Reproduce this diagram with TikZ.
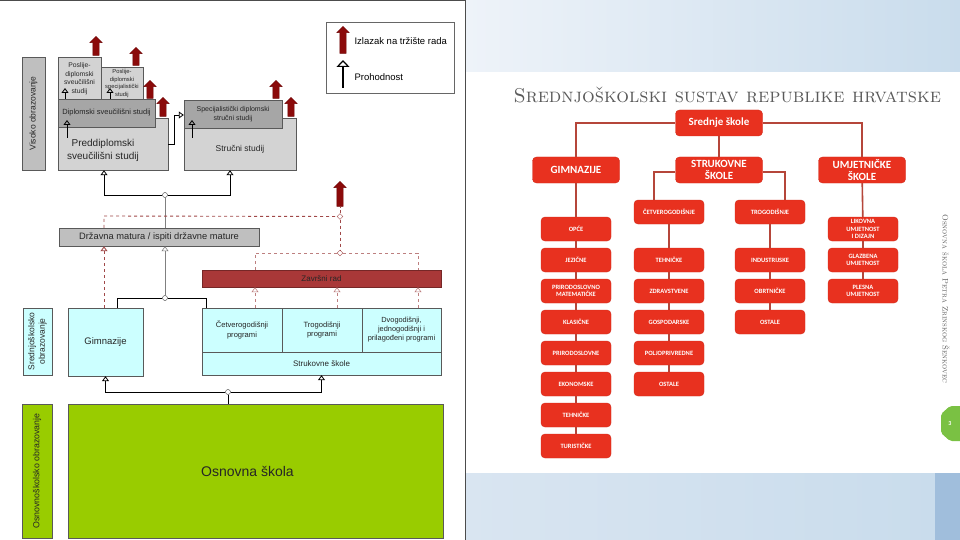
\documentclass[tikz,border=0pt]{standalone}
\usepackage{fontspec}
\newfontfamily\arialfont{Liberation Sans}
\newfontfamily\chartfont{Carlito}
\usetikzlibrary{arrows.meta,shapes.arrows,shapes.geometric}
\newcommand\fsz[2]{\fontsize{#1}{#2}\selectfont}
\definecolor{sivasv}{HTML}{D3D3D3}
\definecolor{sivatm}{HTML}{A6A6A6}
\definecolor{sivasr}{HTML}{BFBFBF}
\definecolor{cijan}{HTML}{CCFFFF}
\definecolor{zelena}{HTML}{99CC00}
\definecolor{crvzav}{HTML}{A93838}
\definecolor{izlazcrv}{HTML}{8B0A0A}
\definecolor{crtkano}{HTML}{A04848}
\definecolor{crvena}{HTML}{E8311F}
\definecolor{crvlin}{HTML}{B5463A}
\definecolor{naslovsiva}{HTML}{5A5A5A}
\definecolor{pozsv}{HTML}{EEF3F9}
\definecolor{poztm}{HTML}{C9DCEC}
\definecolor{pozdno}{HTML}{D9E5F1}
\definecolor{traka}{HTML}{A0BEDC}
\definecolor{znacka}{HTML}{7AC143}
\tikzstyle{kut} = [draw=black!65, thin, align=center, inner sep=1pt, text=black!85, font=\arialfont]

\begin{document}
\begin{tikzpicture}[x=1pt,y=-1pt,
		izlaz/.style={single arrow, rotate=90, fill=izlazcrv, draw=izlazcrv!80!black, inner xsep=0pt, inner ysep=3pt,
			single arrow head extend=3pt, single arrow head indent=0pt, minimum height=#1},
		prolaz/.style={-{Triangle[open,width=7pt,length=5pt]}, line width=0.8pt},
		spoj/.style={circle, draw=black!80, fill=white, inner sep=0pt, minimum size=5pt},
		dspoj/.style={diamond, draw=crtkano, fill=white, inner sep=0pt, minimum size=6pt},
		matura/.style={dashed, draw=crtkano, line width=0.9pt},
		zavrs/.style={dashed, draw=crtkano!70, line width=0.6pt},
		rkut/.style={rounded corners=4pt, fill=crvena, draw=crvena!90!black, text=white, align=center,
			font=\chartfont\bfseries\fsz{6.5}{7.5}, minimum width=70pt, minimum height=24pt, inner sep=0pt},
		rglav/.style={rkut, minimum width=87pt, minimum height=26pt, font=\chartfont\bfseries\fsz{11}{11.5}},
		rlin/.style={draw=crvlin, line width=1.6pt}]
		\useasboundingbox (0,0) rectangle (960,540);
		\fill[white] (0,0) rectangle (960,540);
		% slide background
		\shade[left color=pozsv, right color=poztm] (466,0) rectangle (960,72);
		\shade[left color=pozdno, right color=poztm] (466,473) rectangle (935,540);
		\fill[traka] (935,473) rectangle (960,540);
		\draw[black!70] (0,0.5) -- (465,0.5);
		\draw[black!70, line width=1pt] (465,0) -- (465,540);

		% legend
		\node (legenda) [draw=black!60, minimum width=128pt, minimum height=71pt] at (390,57.5) {};
		\node (legiz) [izlaz=27] at (343,41.5) {};
		\node (legt1) [anchor=west, font=\arialfont\fsz{9.5}{11}] at (351,41) {Izlazak na tržište rada};
		\coordinate (legp1) at (343,88);
		\coordinate (legp2) at (343,60);
		\draw [-{Triangle[open,width=13pt,length=7pt]}, line width=1.2pt] (legp1) -- (legp2);
		\node (legt2) [anchor=west, font=\arialfont\fsz{9.5}{11}] at (351,77) {Prohodnost};

		% visoko obrazovanje
		\node (visoko) [kut, fill=sivasr, rotate=90, minimum width=113pt, minimum height=23pt, font=\arialfont\fsz{8.5}{10}] at (33.5,113.5) {Visoko obrazovanje};
		\node (posl1) [kut, fill=sivasv, minimum width=43pt, minimum height=43pt, font=\arialfont\fsz{6.8}{8.5}] at (79.5,78.5) {Poslije-\\diplomski\\sveučilišni\\studij};
		\node (posl2) [kut, fill=sivasv, minimum width=42pt, minimum height=33pt, font=\arialfont\fsz{5.8}{7.5}] at (122,83.5) {Poslije-\\diplomski\\specijalistički\\studij};
		\node (predd) [kut, fill=sivasv, minimum width=110pt, minimum height=52pt,
			label={[align=center, font=\arialfont\fsz{10}{13}, text=black!85, xshift=-10pt, yshift=-6pt]center:Preddiplomski\\sveučilišni studij}] at (113,144) {};
		\node (dipl) [kut, fill=sivatm, minimum width=97pt, minimum height=28pt, font=\arialfont\fsz{7.5}{8}] at (106.5,113) {Diplomski sveučilišni studij};
		\node (struc) [kut, fill=sivasv, minimum width=112pt, minimum height=52pt,
			label={[font=\arialfont\fsz{8.5}{10}, text=black!85, yshift=-5pt]center:Stručni studij}] at (240,144) {};
		\node (spec) [kut, fill=sivatm, minimum width=98pt, minimum height=28pt, font=\arialfont\fsz{7}{8.5}] at (233,114) {Specijalistički diplomski\\stručni studij};

		\node (iz1) [izlaz=19] at (96,47.5) {};
		\node (iz2) [izlaz=18] at (136,58) {};
		\node (iz3) [izlaz=18] at (150,91) {};
		\node (iz4) [izlaz=19] at (163,108.5) {};
		\node (iz5) [izlaz=18] at (276,91) {};
		\node (iz6) [izlaz=19] at (291,108.5) {};
		\node (iz7) [izlaz=25] at (340,195.5) {};

		\coordinate (u1) at (65,88);
		\coordinate (u2) at (110,88);
		\coordinate (u3) at (67,120);
		\coordinate (u3s) at (67,138);
		\coordinate (u4) at (192,120);
		\coordinate (u4s) at (192,138);
		\draw [prolaz] (u1 |- dipl.north) -- (u1);
		\draw [prolaz] (u2 |- dipl.north) -- (u2);
		\draw [prolaz] (u3s) -- (u3);
		\draw [prolaz] (u4s) -- (u4);
		\coordinate (ps) at (174,115);
		\draw [prolaz] (predd.east) -| (ps) -- (spec.west |- ps);

		% matura
		\node (jvis) [spoj] at (165,195) {};
		\draw [prolaz] (jvis) -| ([xshift=-9pt]predd.south);
		\draw [prolaz] (jvis) -| ([xshift=-10pt]struc.south);
		\node (drz) [kut, fill=sivasr, minimum width=200pt, minimum height=18pt, font=\arialfont\fsz{9.3}{10}] at (159,237) {Državna matura / ispiti državne mature};
		\draw [black!50, line width=0.6pt] (jvis) -- (jvis |- drz.north);
		\node (jsr) [spoj] at (165,298) {};
		\draw [prolaz, black!50, line width=0.6pt] (jsr) -- (jsr |- drz.south);

		% srednje obrazovanje
		\node (sred) [kut, fill=cijan, rotate=90, minimum width=67pt, minimum height=29pt, font=\arialfont\fsz{8.5}{10.5}] at (37.5,341.5) {Srednjoškolsko\\obrazovanje};
		\node (gim) [kut, fill=cijan, minimum width=75pt, minimum height=68pt, font=\arialfont\fsz{9.5}{11}] at (105.5,342) {Gimnazije};
		\node (cetv) [kut, fill=cijan, minimum width=80pt, minimum height=44pt, font=\arialfont\fsz{7.6}{9.5}] at (242,330) {Četverogodišnji\\programi};
		\node (trog) [kut, fill=cijan, minimum width=80pt, minimum height=44pt, font=\arialfont\fsz{7.6}{9.5}] at (322,330) {Trogodišnji\\programi};
		\node (dvog) [kut, fill=cijan, minimum width=79pt, minimum height=44pt, font=\arialfont\fsz{7.4}{9}] at (401.5,330) {Dvogodišnji,\\jednogodišnji i\\prilagođeni programi};
		\node (struk) [kut, fill=cijan, minimum width=239pt, minimum height=23pt, font=\arialfont\fsz{8}{10}] at (321.5,363.5) {Strukovne škole};
		\draw [line width=0.8pt] (jsr) -| ([xshift=11.5pt]gim.north);
		\draw [line width=0.8pt] (jsr) -| ([xshift=5pt]cetv.north west);

		\node (zav) [kut, fill=crvzav, draw=crvzav!70!black, minimum width=239pt, minimum height=17pt, font=\arialfont\fsz{8}{10}] at (321.5,278.5) {Završni rad};
		\coordinate (dm) at (104,216);
		\node (jiz) [dspoj] at (340,216.5) {};
		\node (jzr) [dspoj] at (340,253) {};
		\draw [matura, -{Triangle[open,width=7pt,length=5pt]}] (dm |- gim.north) -- (dm |- drz.south);
		\draw [matura] (dm |- drz.north) -- (dm) -- (jiz);
		\draw [matura] (jiz) -- (iz7);
		\draw [matura] (jiz) -- (jzr);
		\coordinate (z1) at (255,262);
		\coordinate (z2) at (337,262);
		\coordinate (z3) at (418,262);
		\draw [zavrs] (jzr) -| (z1 |- zav.north);
		\draw [zavrs] (jzr) -| (z3 |- zav.north);
		\foreach \z in {z1,z2,z3}
			\draw [zavrs, -{Triangle[open,width=7pt,length=5pt]}] (\z |- cetv.north) -- (\z |- zav.south);

		% osnovno obrazovanje
		\node (osnl) [kut, fill=zelena, rotate=90, minimum width=134pt, minimum height=30pt, font=\arialfont\fsz{8.8}{10}] at (37,471) {Osnovnoškolsko obrazovanje};
		\node (osn) [kut, fill=zelena, minimum width=375pt, minimum height=134pt,
			label={[font=\arialfont\fsz{14}{16}, text=black!85, xshift=-8pt]center:Osnovna škola}] at (255.5,471) {};
		\node (josn) [spoj] at (228,392) {};
		\draw [prolaz] (josn) -| (gim.south);
		\draw [prolaz] (josn) -| (struk.south);
		\draw [line width=0.8pt] (josn) -- (josn |- osn.north);

		% srednjoskolski sustav
		\node (naslov) [anchor=west, text=naslovsiva, font=\rmfamily\scshape\fsz{20}{24}] at (510,95) {Srednjoškolski sustav republike hrvatske};
		\node (srs) [rglav] at (719,123) {Srednje škole};
		\node (gimr) [rglav] at (576,170) {GIMNAZIJE};
		\node (sk) [rglav] at (719,170) {STRUKOVNE\\ŠKOLE};
		\node (umj) [rglav] at (862,170) {UMJETNIČKE\\ŠKOLE};
		\draw [rlin] (srs.west) -| (gimr.north);
		\draw [rlin] (srs.east) -| (umj.north);
		\draw [rlin] (srs) -- (sk);

		\foreach \i/\t in {1/OPĆE, 2/JEZIČNE, 3/{PRIRODOSLOVNO\\MATEMATIČKE}, 4/KLASIČNE, 5/PRIRODOSLOVNE, 6/EKONOMSKE, 7/TEHNIČKE, 8/TURISTIČKE}
			\node (g\i) [rkut] at (576,198+31*\i) {\t};
		\node (s0) [rkut] at (669,212) {ČETVEROGODIŠNJE};
		\foreach \i/\t in {1/TEHNIČKE, 2/ZDRAVSTVENE, 3/GOSPODARSKE, 4/POLJOPRIVREDNE, 5/OSTALE}
			\node (s\i) [rkut] at (669,229+31*\i) {\t};
		\node (t0) [rkut] at (770,212) {TROGODIŠNJE};
		\foreach \i/\t in {1/INDUSTRIJSKE, 2/OBRTNIČKE, 3/OSTALE}
			\node (t\i) [rkut] at (770,229+31*\i) {\t};
		\foreach \i/\t in {1/{LIKOVNA\\UMJETNOST\\I DIZAJN}, 2/{GLAZBENA\\UMJETNOST}, 3/{PLESNA\\UMJETNOST}}
			\node (u\i) [rkut] at (863,198+31*\i) {\t};

		\draw [rlin] (gimr) -- (g1);
		\foreach \a/\b in {1/2,2/3,3/4,4/5,5/6,6/7,7/8}
			\draw [rlin] (g\a) -- (g\b);
		\coordinate (sl) at (654,172);
		\coordinate (sr) at (785,172);
		\draw [rlin] (sk.west |- sl) -- (sl) -- (sl |- s0.north);
		\draw [rlin] (sk.east |- sr) -- (sr) -- (sr |- t0.north);
		\foreach \a/\b in {0/1,1/2,2/3,3/4,4/5}
			\draw [rlin] (s\a) -- (s\b);
		\foreach \a/\b in {0/1,1/2,2/3}
			\draw [rlin] (t\a) -- (t\b);
		\draw [rlin] (umj) -- (u1);
		\draw [rlin] (u1) -- (u2);
		\draw [rlin] (u2) -- (u3);

		% footer
		\node (skola) [rotate=-90, text=naslovsiva, font=\rmfamily\scshape\fsz{8}{9}] at (946,299) {Osnovna škola Petra Zrinskog Šenkovec};
		\fill [znacka, rounded corners=2pt] (941,414) -- (950,406) -- (962,406) -- (962,441) -- (950,441) -- (941,433) -- cycle;
		\node (broj) [text=white, font=\chartfont\bfseries\fsz{6}{7}] at (950,423.5) {3};
\end{tikzpicture}
\end{document}
